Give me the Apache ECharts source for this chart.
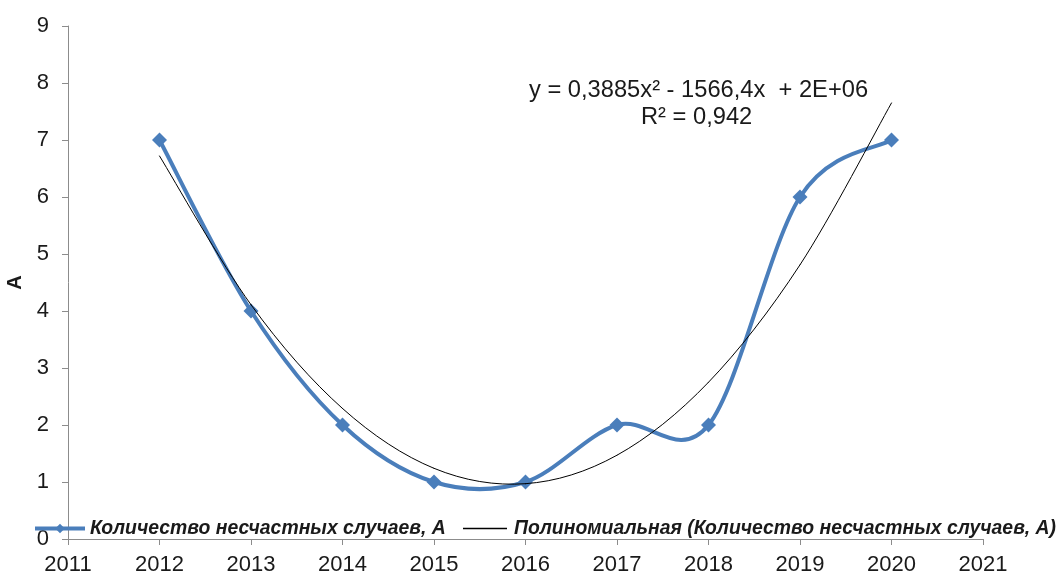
<!DOCTYPE html>
<html><head><meta charset="utf-8">
<script src="https://cdn.jsdelivr.net/npm/echarts@6/dist/echarts.min.js"></script>
<style>html,body{margin:0;padding:0;background:#fff}#c{width:1062px;height:577px}</style>
</head><body><div id="c"></div>
<script>
const years = [2012, 2013, 2014, 2015, 2016, 2017, 2018, 2019, 2020];
const accidents = [7, 4, 2, 1, 1, 2, 2, 6, 7];
const trendValues = [6.72, 4.11, 2.29, 1.24, 0.97, 1.47, 2.75, 4.81, 7.65];
const xTicks = [2011, 2012, 2013, 2014, 2015, 2016, 2017, 2018, 2019, 2020, 2021];
const seriesName = 'Количество несчастных случаев, А';
const trendName = 'Полиномиальная (Количество несчастных случаев, А)';
const equationText = 'y = 0,3885x² - 1566,4x  + 2E+06';
const r2Text = 'R² = 0,942';

const FONT = 'Liberation Sans, Arial, sans-serif';
const BLUE = '#4a7ebb';
const TXT = '#1a1a1a';

// Excel-like smoothed curve (Catmull-Rom -> cubic Bezier) in pixel space
function smoothCurve(xs, ys, color, width) {
  return function (params, api) {
    const pts = xs.map((x, i) => api.coord([x, ys[i]]));
    const children = [];
    for (let i = 0; i < pts.length - 1; i++) {
      const p0 = pts[Math.max(i - 1, 0)], p1 = pts[i], p2 = pts[i + 1], p3 = pts[Math.min(i + 2, pts.length - 1)];
      children.push({
        type: 'bezierCurve',
        shape: {
          x1: p1[0], y1: p1[1], x2: p2[0], y2: p2[1],
          cpx1: p1[0] + (p2[0] - p0[0]) / 6, cpy1: p1[1] + (p2[1] - p0[1]) / 6,
          cpx2: p2[0] - (p3[0] - p1[0]) / 6, cpy2: p2[1] - (p3[1] - p1[1]) / 6
        },
        style: { stroke: color, lineWidth: width, fill: null, lineCap: 'round', lineJoin: 'round' }
      });
    }
    return { type: 'group', children: children };
  };
}

const legendText = { fontSize: 19.4, fontWeight: 'bold', fontStyle: 'italic', color: TXT, fontFamily: FONT };

const chart = echarts.init(document.getElementById('c'));
chart.setOption({
  animation: false,
  textStyle: { fontFamily: FONT },
  grid: { left: 68, right: 79, top: 26, bottom: 38, containLabel: false, outerBoundsMode: 'none' },
  xAxis: {
    type: 'value', min: xTicks[0], max: xTicks[xTicks.length - 1], interval: 1,
    axisLine: { lineStyle: { color: '#8c8c8c', width: 1 } },
    axisTick: { show: true, length: 6, lineStyle: { color: '#8c8c8c' } },
    splitLine: { show: false },
    axisLabel: { color: TXT, fontSize: 22, margin: 15, fontFamily: FONT, formatter: v => String(v) }
  },
  yAxis: {
    type: 'value', min: 0, max: 9, interval: 1,
    name: 'А', nameLocation: 'middle', nameGap: 34, nameRotate: 90,
    nameTextStyle: { fontSize: 20, fontWeight: 'bold', color: TXT, fontFamily: FONT },
    axisLine: { show: true, lineStyle: { color: '#8c8c8c', width: 1 } },
    axisTick: { show: true, length: 6, lineStyle: { color: '#8c8c8c' } },
    splitLine: { show: false },
    axisLabel: { color: TXT, fontSize: 22, margin: 19, fontFamily: FONT }
  },
  legend: [
    {
      left: 33, top: 519, itemWidth: 50, itemHeight: 12, padding: 0,
      textStyle: legendText,
      data: [{ name: seriesName, lineStyle: { color: BLUE, width: 4, opacity: 1 }, itemStyle: { color: BLUE, opacity: 1 } }]
    },
    {
      left: 463, top: 519, itemWidth: 44, itemHeight: 1.5, padding: 0, icon: 'rect',
      textStyle: Object.assign({ padding: [0, 0, 0, 2] }, legendText),
      data: [{ name: trendName, itemStyle: { color: '#000', opacity: 1 } }]
    }
  ],
  graphic: [
    { type: 'text', left: 529, top: 78, z: 10, style: { text: equationText, fontSize: 23.7, fill: TXT, fontFamily: FONT } },
    { type: 'text', left: 641, top: 105, z: 10, style: { text: r2Text, fontSize: 23.7, fill: TXT, fontFamily: FONT } }
  ],
  series: [
    {
      type: 'custom', z: 2, silent: true, data: [0],
      renderItem: smoothCurve(years, accidents, BLUE, 4)
    },
    {
      name: seriesName, type: 'line', z: 3,
      data: years.map((y, i) => [y, accidents[i]]),
      symbol: 'diamond', symbolSize: 15,
      lineStyle: { color: BLUE, width: 4, opacity: 0 },
      itemStyle: { color: BLUE }
    },
    {
      type: 'custom', z: 4, silent: true, data: [0],
      renderItem: smoothCurve(years, trendValues, '#000', 1)
    },
    {
      name: trendName, type: 'line', z: 1,
      data: years.map((y, i) => [y, trendValues[i]]),
      symbol: 'none',
      lineStyle: { color: '#000', width: 1, opacity: 0 },
      itemStyle: { color: '#000' }
    }
  ]
});
</script></body></html>
